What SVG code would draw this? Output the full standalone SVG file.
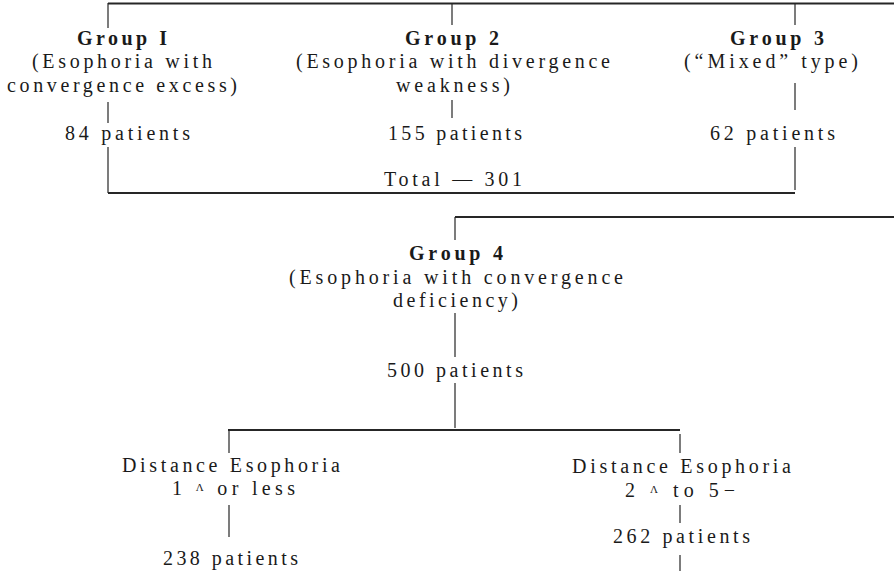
<svg xmlns="http://www.w3.org/2000/svg" width="894" height="571" viewBox="0 0 894 571">
<style>
text{font-family:"Liberation Serif","Times New Roman",serif;font-size:20px;fill:#1a1a1a}
.b{font-weight:bold;font-size:20px}
.ln{stroke:#262626;stroke-width:1.2;fill:none}
.thk{stroke-width:2}
.d{font-size:11px}
</style>
<rect width="894" height="571" fill="#fff"/>
<g id="connectors">
<path class="ln thk" d="M108 3.5H894"/>
<path class="ln" d="M108 3V28M452 4V25M795 4V25"/>
<path class="ln" d="M108 102V123M108 147V193M452 100V118M795 83V110M795 147V190"/>
<path class="ln thk" d="M108 193H795"/>
<path class="ln thk" d="M455 217H894"/>
<path class="ln" d="M455 217V240M455 313V357M455 383V428"/>
<path class="ln thk" d="M228 430H680"/>
<path class="ln" d="M229 430V453M229 505V537M680 434V453M680 505V523M680 555V571"/>
</g>
<g id="group1">
<text class="b" x="77" y="45" textLength="90" lengthAdjust="spacing">Group I</text>
<text x="32" y="68" textLength="180" lengthAdjust="spacing">(Esophoria with</text>
<text x="7" y="92" textLength="230" lengthAdjust="spacing">convergence excess)</text>
<text x="65" y="140" textLength="125" lengthAdjust="spacing">84 patients</text>
</g>
<g id="group2">
<text class="b" x="405" y="45" textLength="94" lengthAdjust="spacing">Group 2</text>
<text x="296" y="68" textLength="314" lengthAdjust="spacing">(Esophoria with divergence</text>
<text x="396" y="92" textLength="114" lengthAdjust="spacing">weakness)</text>
<text x="388" y="140" textLength="134" lengthAdjust="spacing">155 patients</text>
</g>
<g id="group3">
<text class="b" x="730" y="45" textLength="94" lengthAdjust="spacing">Group 3</text>
<text x="684" y="68" textLength="174" lengthAdjust="spacing">(“Mixed” type)</text>
<text x="710" y="140" textLength="125" lengthAdjust="spacing">62 patients</text>
</g>
<g id="total">
<text x="384" y="186" textLength="138" lengthAdjust="spacing">Total — 301</text>
</g>
<g id="group4">
<text class="b" x="409" y="260" textLength="94" lengthAdjust="spacing">Group 4</text>
<text x="289" y="284" textLength="334" lengthAdjust="spacing">(Esophoria with convergence</text>
<text x="393" y="307" textLength="125" lengthAdjust="spacing">deficiency)</text>
<text x="387" y="377" textLength="136" lengthAdjust="spacing">500 patients</text>
</g>
<g id="left">
<text x="122" y="472" textLength="218" lengthAdjust="spacing">Distance Esophoria</text>
<text x="172" y="495" textLength="123" lengthAdjust="spacing">1 <tspan class="d" dy="-4">Λ</tspan><tspan dy="4"> or less</tspan></text>
<text x="163" y="565" textLength="135" lengthAdjust="spacing">238 patients</text>
</g>
<g id="right">
<text x="572" y="473" textLength="219" lengthAdjust="spacing">Distance Esophoria</text>
<text x="625" y="497" textLength="110" lengthAdjust="spacing">2 <tspan class="d" dy="-4">Λ</tspan><tspan dy="4"> to 5−</tspan></text>
<text x="613" y="543" textLength="137" lengthAdjust="spacing">262 patients</text>
</g>
</svg>
